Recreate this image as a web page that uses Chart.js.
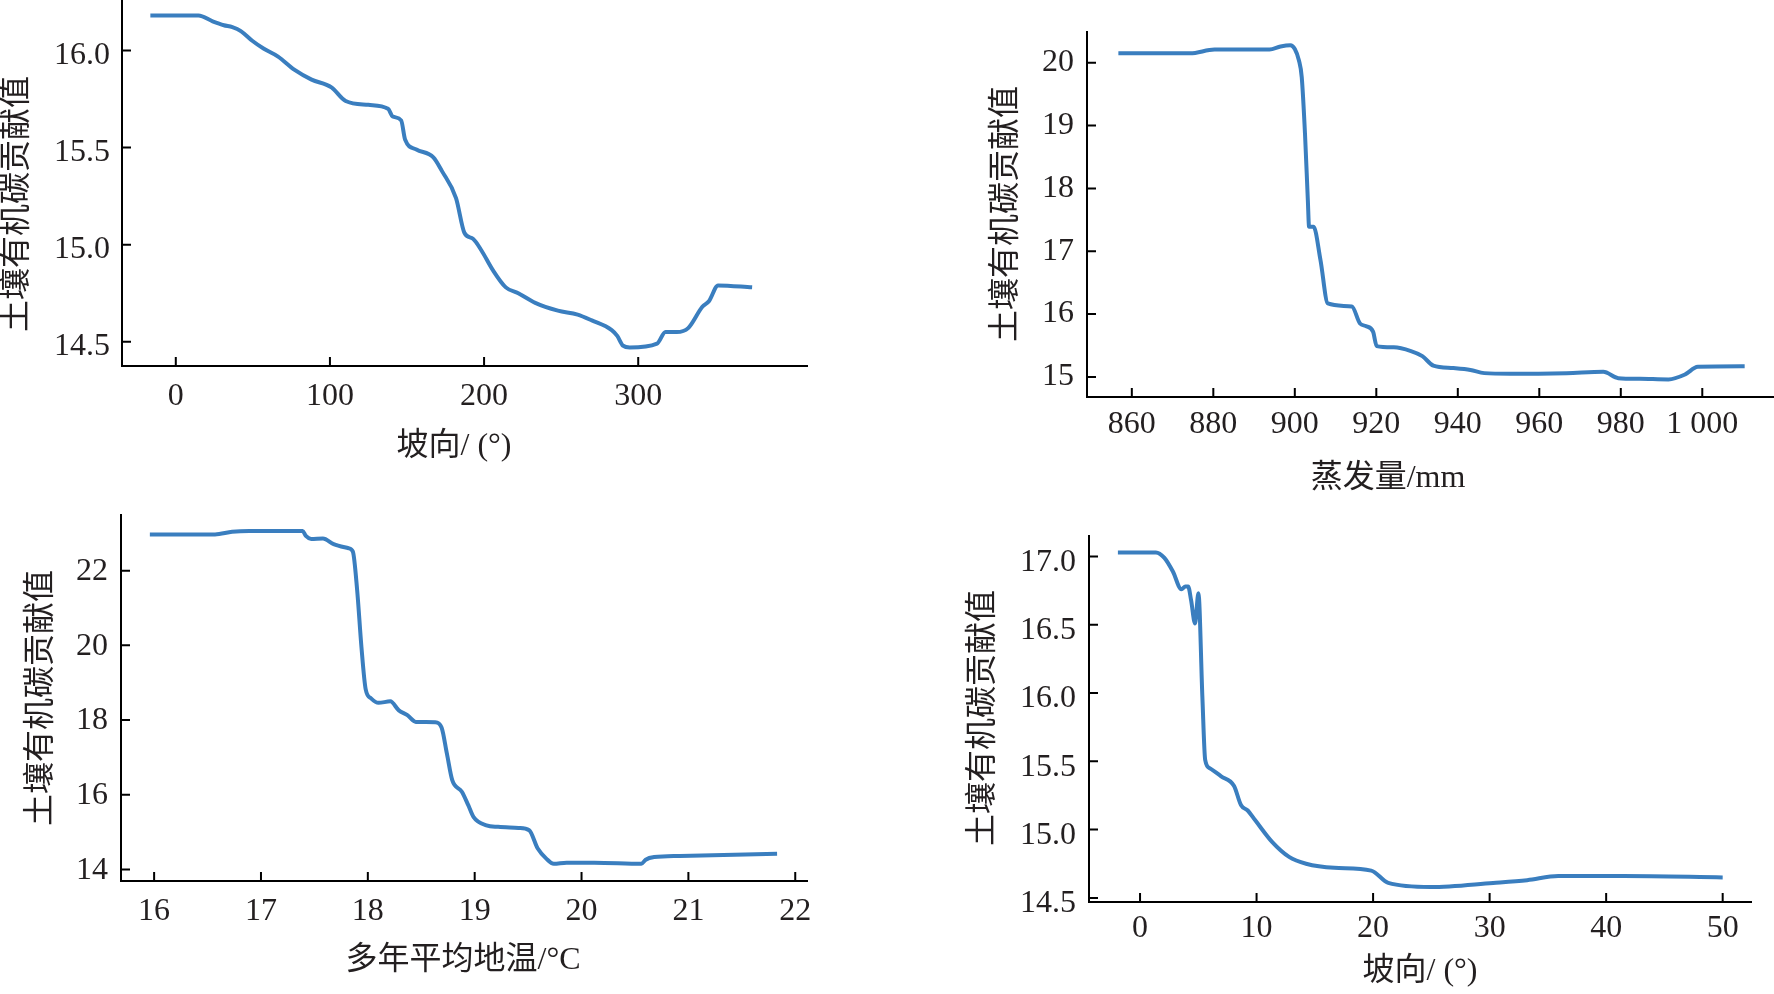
<!DOCTYPE html>
<html>
<head>
<meta charset="utf-8">
<title>土壤有机碳贡献值</title>
<script src="https://cdn.jsdelivr.net/npm/chart.js@4.4.1/dist/chart.umd.min.js"></script>
<style>
    body { margin: 0; background: #fff; width: 1774px; height: 994px; overflow: hidden; position: relative; }
    .box { position: absolute; width: 887px; height: 497px; }
</style>
</head>
<body>
<div class="box" style="left:0;top:0"><canvas id="c1" width="887" height="497"></canvas></div>
<div class="box" style="left:887px;top:0"><canvas id="c2" width="887" height="497"></canvas></div>
<div class="box" style="left:0;top:497px"><canvas id="c3" width="887" height="497"></canvas></div>
<div class="box" style="left:887px;top:497px"><canvas id="c4" width="887" height="497"></canvas></div>

<script>
// =============================
// DATA
// =============================

// top left: 坡向
const aspectX = [-16.5, 14.7, 23.9, 31.2, 36.7, 42.2, 49.6, 56.9, 66.1, 77.1, 88.1, 101, 110.2, 124.9, 137.7, 140.7, 146.2, 148.8, 156.1, 167.1, 172.6, 181.8, 187.3, 192.8, 198.3, 205.6, 214.1, 222.2, 233.2, 247.9, 260.7, 269.9, 282.8, 286.4, 290.1, 294.5, 312.2, 317.7, 325, 332.4, 341.6, 346, 351.8, 373.9];
const aspectY = [16.18, 16.18, 16.15, 16.13, 16.12, 16.10, 16.05, 16.01, 15.97, 15.90, 15.85, 15.81, 15.74, 15.72, 15.70, 15.66, 15.64, 15.54, 15.49, 15.45, 15.38, 15.24, 15.06, 15.03, 14.97, 14.87, 14.78, 14.75, 14.70, 14.66, 14.64, 14.61, 14.56, 14.53, 14.48, 14.47, 14.49, 14.55, 14.55, 14.57, 14.68, 14.71, 14.79, 14.78];
const aspectXTicks = [0, 100, 200, 300];
const aspectYTicks = [14.5, 15.0, 15.5, 16.0];

// top right: 蒸发量
const evapX = [856.7, 874.3, 880.3, 893.8, 896.5, 898.9, 900, 901, 901.7, 902.5, 903.2, 903.5, 904.6, 906.3, 908.1, 914, 916, 917.4, 919.2, 920.1, 924.3, 928.5, 931.3, 934, 938.9, 943.1, 946.5, 952.8, 966.7, 975.7, 979.4, 984.7, 991.7, 995.8, 998.9, 1010.4];
const evapY = [20.15, 20.15, 20.21, 20.21, 20.26, 20.28, 20.22, 20.04, 19.77, 18.87, 17.81, 17.39, 17.39, 16.86, 16.17, 16.12, 15.85, 15.81, 15.72, 15.49, 15.47, 15.41, 15.33, 15.18, 15.14, 15.11, 15.06, 15.05, 15.06, 15.08, 14.98, 14.97, 14.96, 15.04, 15.16, 15.17];
const evapXTicks = [860, 880, 900, 920, 940, 960, 980, 1000];
const evapYTicks = [15, 16, 17, 18, 19, 20];

// bottom left: 多年平均地温
const tempX = [15.96, 16.57, 16.73, 16.89, 17.39, 17.42, 17.47, 17.58, 17.68, 17.82, 17.86, 17.90, 17.94, 17.98, 18.03, 18.10, 18.21, 18.29, 18.37, 18.45, 18.63, 18.69, 18.74, 18.79, 18.88, 18.94, 18.99, 19.11, 19.22, 19.41, 19.51, 19.59, 19.67, 19.74, 19.86, 20.12, 20.56, 20.60, 20.68, 20.92, 21.83];
const tempY = [22.97, 22.97, 23.04, 23.06, 23.06, 22.93, 22.85, 22.86, 22.71, 22.60, 22.51, 21.48, 19.96, 18.82, 18.58, 18.46, 18.50, 18.26, 18.13, 17.95, 17.94, 17.80, 17.10, 16.39, 16.08, 15.72, 15.40, 15.18, 15.14, 15.11, 15.05, 14.56, 14.29, 14.15, 14.18, 14.18, 14.15, 14.26, 14.33, 14.36, 14.42];
const tempXTicks = [16, 17, 18, 19, 20, 21, 22];
const tempYTicks = [14, 16, 18, 20, 22];

// bottom right: 坡向 (0-50)
const slopeX = [-1.90, 1.36, 2.09, 2.82, 3.55, 3.89, 4.13, 4.38, 4.72, 5.01, 5.35, 5.59, 5.98, 6.96, 8.07, 8.66, 9.24, 9.87, 11.33, 12.79, 14.25, 16.68, 19.84, 21.30, 24.95, 30.30, 33.22, 35.89, 41.49, 50.0];
const slopeY = [17.03, 17.03, 16.99, 16.89, 16.76, 16.78, 16.78, 16.68, 16.51, 16.73, 15.97, 15.51, 15.45, 15.39, 15.32, 15.18, 15.14, 15.07, 14.91, 14.80, 14.75, 14.72, 14.70, 14.61, 14.58, 14.61, 14.63, 14.66, 14.66, 14.65];
const slopeXTicks = [0, 10, 20, 30, 40, 50];
const slopeYTicks = [14.5, 15.0, 15.5, 16.0, 16.5, 17.0];

const yTitle = "土壤有机碳贡献值";

// =============================
// STYLE
// =============================
const FONT = '"Liberation Serif", "Noto Sans CJK SC", serif';
const INK = "#231f20";
const LINE = "#3a7ebf";

function fmtTick(v, dec) {
    let s = v.toFixed(dec);
    if (v >= 1000) s = s.replace(/\B(?=(\d{3})+(?!\d))/g, " ");
    return s;
}

// short tick marks pointing into the plot
const innerTicks = {
    id: "innerTicks",
    afterDraw(chart) {
        const { ctx, chartArea: a, scales } = chart;
        ctx.save();
        ctx.strokeStyle = "#000";
        ctx.lineWidth = 2;
        ctx.beginPath();
        scales.x.ticks.forEach(t => {
            const p = scales.x.getPixelForValue(t.value);
            ctx.moveTo(p, a.bottom);
            ctx.lineTo(p, a.bottom - 9);
        });
        scales.y.ticks.forEach(t => {
            const p = scales.y.getPixelForValue(t.value);
            ctx.moveTo(a.left, p);
            ctx.lineTo(a.left + 9, p);
        });
        ctx.stroke();
        ctx.restore();
    }
};

// axis titles placed where the figure has them
const axisTitles = {
    id: "axisTitles",
    afterDraw(chart, args, opts) {
        const ctx = chart.ctx;
        ctx.save();
        ctx.fillStyle = INK;
        ctx.font = "32px " + FONT;
        ctx.textAlign = "center";
        ctx.textBaseline = "middle";
        ctx.fillText(opts.xText, opts.xPos[0], opts.xPos[1]);
        ctx.translate(opts.yPos[0], opts.yPos[1]);
        ctx.rotate(-Math.PI / 2);
        ctx.fillText(opts.yText, 0, 0);
        ctx.restore();
    }
};

// =============================
// CHART FUNCTION
// =============================
function loadChart(id, c) {
    const points = c.xs.map((x, i) => ({ x: x, y: c.ys[i] }));

    new Chart(document.getElementById(id), {
        type: "line",
        data: {
            datasets: [{
                data: points,
                borderColor: LINE,
                borderWidth: 4,
                pointRadius: 0,
                cubicInterpolationMode: "monotone",
                fill: false
            }]
        },
        options: {
            responsive: false,
            animation: false,
            devicePixelRatio: 1,
            layout: { padding: { top: c.top, right: c.right, bottom: 0, left: 0 } },
            plugins: {
                legend: { display: false },
                tooltip: { enabled: false },
                axisTitles: { xText: c.xTitle, xPos: c.xTitlePos, yText: yTitle, yPos: c.yTitlePos }
            },
            scales: {
                x: {
                    type: "linear",
                    min: c.xRange[0],
                    max: c.xRange[1],
                    grid: { display: false, drawTicks: false },
                    border: { color: "#000", width: 2 },
                    ticks: {
                        font: { family: FONT, size: 32, lineHeight: 0.8 },
                        color: INK,
                        padding: c.xPad,
                        maxRotation: 0,
                        autoSkip: false,
                        callback: v => fmtTick(v, c.xDec)
                    },
                    afterBuildTicks: s => { s.ticks = c.xTicks.map(v => ({ value: v })); },
                    afterFit: s => { s.height = c.xH; s.paddingLeft = 0; s.paddingRight = 0; }
                },
                y: {
                    min: c.yRange[0],
                    max: c.yRange[1],
                    grid: { display: false, drawTicks: false },
                    border: { color: "#000", width: 2 },
                    ticks: {
                        font: { family: FONT, size: 32 },
                        color: INK,
                        padding: c.yPad,
                        labelOffset: c.yShift,
                        autoSkip: false,
                        callback: v => fmtTick(v, c.yDec)
                    },
                    afterBuildTicks: s => { s.ticks = c.yTicks.map(v => ({ value: v })); },
                    afterFit: s => { s.width = c.yW; s.paddingTop = 0; s.paddingBottom = 0; }
                }
            }
        },
        plugins: [innerTicks, axisTitles]
    });
}

// =============================
// PAGE LOAD
// =============================
document.addEventListener("DOMContentLoaded", function () {

    loadChart("c1", {
        xs: aspectX, ys: aspectY, xTicks: aspectXTicks, yTicks: aspectYTicks,
        xRange: [-34.9, 409.5], yRange: [14.375, 16.26], xDec: 0, yDec: 1,
        top: 0, right: 80, yW: 122, xH: 131, xPad: 18, yPad: 12, yShift: 5,
        xTitle: "坡向/ (°)", xTitlePos: [454, 447], yTitlePos: [18, 204]
    });

    loadChart("c2", {
        xs: evapX, ys: evapY, xTicks: evapXTicks, yTicks: evapYTicks,
        xRange: [849, 1017.6], yRange: [14.68, 20.49], xDec: 0, yDec: 0,
        top: 32, right: 0, yW: 200, xH: 100, xPad: 15, yPad: 13, yShift: 0,
        xTitle: "蒸发量/mm", xTitlePos: [501, 479], yTitlePos: [120, 214]
    });

    loadChart("c3", {
        xs: tempX, ys: tempY, xTicks: tempXTicks, yTicks: tempYTicks,
        xRange: [15.69, 22.11], yRange: [13.69, 23.49], xDec: 0, yDec: 0,
        top: 18, right: 80, yW: 121, xH: 113, xPad: 18, yPad: 13, yShift: 1,
        xTitle: "多年平均地温/°C", xTitlePos: [463, 464], yTitlePos: [42, 201]
    });

    loadChart("c4", {
        xs: slopeX, ys: slopeY, xTicks: slopeXTicks, yTicks: slopeYTicks,
        xRange: [-4.38, 52.43], yRange: [14.47, 17.15], xDec: 0, yDec: 1,
        top: 39, right: 23, yW: 202, xH: 92, xPad: 14, yPad: 13, yShift: 6,
        xTitle: "坡向/ (°)", xTitlePos: [533, 475], yTitlePos: [97, 221]
    });

});
</script>
</body>
</html>
